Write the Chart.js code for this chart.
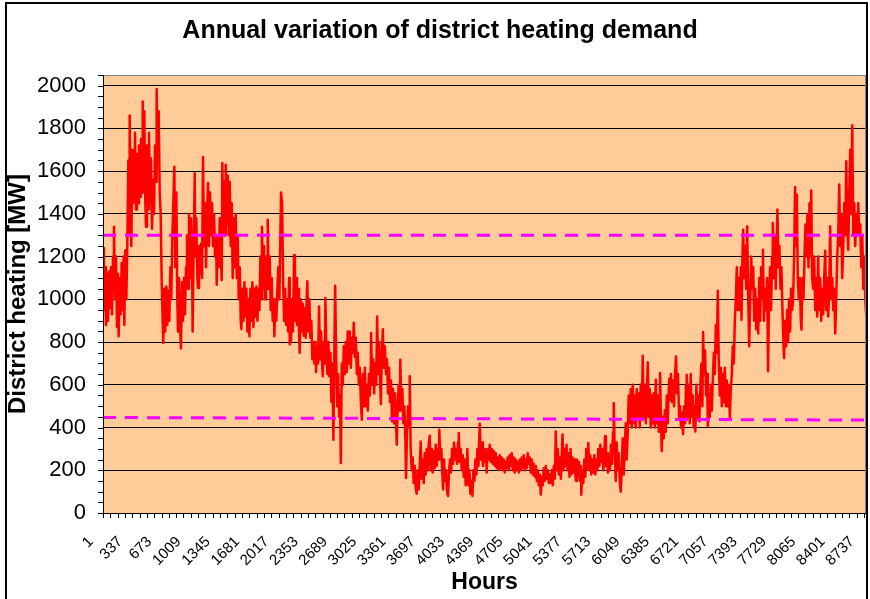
<!DOCTYPE html>
<html>
<head>
<meta charset="utf-8">
<title>Annual variation of district heating demand</title>
<script src="https://cdn.jsdelivr.net/npm/chart.js@4.4.0/dist/chart.umd.min.js"></script>
<style>
    html, body { margin: 0; padding: 0; background: #fff; }
    #wrap { width: 870px; height: 599px; position: relative; }
</style>
</head>
<body>
<div id="wrap"><canvas id="heatChart"></canvas></div>
<script>
// hour of year and demand [MW]
const hours = [
    1, 12, 24, 35, 47, 58, 70, 81, 93, 104, 116, 127, 139, 150, 162, 173, 181, 192, 204, 215, 227, 238, 246, 257, 269, 280,
    292, 300, 307, 319, 326, 338, 349, 361, 368, 380, 391, 403, 414, 426, 437, 449, 457, 468, 475, 487, 495, 506, 518, 529,
    541, 552, 564, 575, 587, 598, 610, 617, 629, 640, 652, 663, 675, 686, 693, 705, 716, 728, 739, 751, 762, 774, 785, 797,
    808, 820, 831, 843, 854, 862, 873, 885, 896, 908, 919, 931, 942, 954, 965, 977, 988, 1000, 1011, 1023, 1030, 1042, 1054,
    1061, 1072, 1084, 1092, 1103, 1115, 1126, 1138, 1149, 1161, 1172, 1184, 1195, 1207, 1218, 1230, 1241, 1253, 1264, 1276,
    1287, 1299, 1307, 1318, 1330, 1341, 1353, 1364, 1371, 1383, 1394, 1402, 1410, 1421, 1433, 1444, 1456, 1467, 1479, 1490,
    1502, 1513, 1525, 1536, 1548, 1559, 1571, 1582, 1590, 1601, 1613, 1624, 1636, 1647, 1659, 1670, 1682, 1693, 1705, 1716,
    1728, 1739, 1751, 1762, 1774, 1785, 1797, 1808, 1820, 1826, 1838, 1849, 1861, 1872, 1884, 1892, 1903, 1915, 1926, 1938,
    1949, 1961, 1968, 1980, 1991, 2003, 2014, 2026, 2037, 2045, 2057, 2068, 2080, 2091, 2103, 2114, 2126, 2137, 2145,
    2148, 2159, 2171, 2182, 2194, 2205, 2217, 2228, 2240, 2251, 2259, 2270, 2282, 2293, 2305, 2316, 2328, 2339, 2347, 2358,
    2370, 2381, 2393, 2404, 2416, 2427, 2439, 2447, 2458, 2470, 2481, 2493, 2504, 2516, 2524, 2535, 2547, 2554, 2566, 2577,
    2589, 2600, 2612, 2623, 2635, 2646, 2658, 2666, 2677, 2689, 2700, 2712, 2723, 2731, 2742, 2754, 2765, 2777, 2788, 2800,
    2811, 2823, 2834, 2846, 2857, 2869, 2880, 2892, 2903, 2915, 2926, 2938, 2949, 2961, 2972, 2984, 2995, 3007, 3018, 3030,
    3041, 3053, 3064, 3076, 3079, 3091, 3102, 3114, 3125, 3137, 3148, 3160, 3171, 3183, 3191, 3202, 3214, 3225, 3237,
    3250, 3261, 3273, 3284, 3296, 3307, 3319, 3330, 3342, 3353, 3365, 3373, 3384, 3396, 3407, 3414, 3426, 3437, 3449, 3460,
    3472, 3480, 3491, 3503, 3514, 3522, 3533, 3545, 3556, 3568, 3579, 3591, 3602, 3614, 3625, 3637, 3648, 3660, 3671, 3683,
    3694, 3706, 3717, 3729, 3740, 3752, 3763, 3775, 3786, 3798, 3809, 3821, 3832, 3844, 3855, 3862, 3874, 3885, 3897, 3905,
    3916, 3928, 3939, 3951, 3962, 3974, 3985, 3997, 4008, 4020, 4031, 4043, 4054, 4066, 4077, 4085, 4096, 4108, 4119, 4131,
    4142, 4154, 4165, 4177, 4184, 4196, 4207, 4219, 4230, 4242, 4253, 4265, 4276, 4288, 4299, 4311, 4322, 4326,
    4340, 4352, 4363, 4375, 4386, 4398, 4406, 4417, 4429, 4440, 4452, 4463, 4475, 4486, 4498, 4509, 4521, 4532, 4544, 4555,
    4567, 4578, 4590, 4601, 4613, 4624, 4636, 4647, 4659, 4670, 4682, 4693, 4705, 4716, 4728, 4739, 4751, 4762, 4774, 4785,
    4797, 4808, 4820, 4831, 4843, 4854, 4866, 4877, 4889, 4900, 4912, 4923, 4935, 4946, 4958, 4969, 4981, 4992, 5004, 5015,
    5027, 5038, 5050, 5061, 5073, 5084, 5096, 5107, 5119, 5130, 5142, 5153, 5165, 5176, 5188, 5199, 5211, 5222, 5234, 5245,
    5257, 5268, 5276, 5287, 5299, 5310, 5322, 5333, 5345, 5356, 5368, 5379, 5391, 5402, 5414,
    5419, 5431, 5442, 5454, 5465, 5477, 5488, 5492, 5503, 5515, 5526, 5538, 5549, 5561, 5572, 5584, 5595, 5607, 5618, 5630,
    5641, 5653, 5664, 5676, 5687, 5699, 5710, 5722, 5733, 5745, 5756, 5764, 5775, 5787, 5798, 5810, 5821, 5833, 5844, 5856,
    5864, 5875, 5887, 5898, 5910, 5921, 5933, 5944, 5956, 5967, 5979, 5990, 6002, 6013, 6025, 6036, 6048, 6059, 6071, 6082,
    6094, 6105, 6117, 6128, 6140, 6151, 6163, 6174, 6186, 6197, 6209, 6220, 6232, 6243, 6255, 6266, 6278, 6289, 6301, 6312,
    6324, 6335, 6347, 6358, 6370, 6381, 6393, 6396, 6408, 6415, 6427, 6438, 6450, 6461, 6473, 6484, 6496, 6503,
    6510, 6522, 6533, 6545, 6556, 6568, 6579, 6591, 6602, 6614, 6625, 6637, 6648, 6660, 6671, 6683, 6694, 6702, 6713, 6725,
    6736, 6748, 6759, 6771, 6782, 6794, 6801, 6813, 6824, 6836, 6847, 6859, 6870, 6882, 6890, 6901, 6913, 6924, 6936, 6944,
    6955, 6967, 6978, 6990, 7001, 7013, 7024, 7036, 7047, 7059, 7070, 7082, 7093, 7105, 7116, 7128, 7139, 7151, 7162, 7174,
    7185, 7197, 7208, 7220, 7231, 7243, 7254, 7266, 7277, 7289, 7300, 7312, 7323, 7331, 7342, 7350, 7362, 7373, 7385, 7396,
    7408, 7419, 7431, 7442, 7454, 7465, 7477, 7488, 7500, 7511, 7523, 7534, 7546, 7557, 7569, 7577, 7588, 7600,
    7613, 7624, 7636, 7647, 7659, 7670, 7682, 7690, 7701, 7713, 7724, 7736, 7743, 7755, 7766, 7778, 7789, 7801, 7812, 7820,
    7831, 7843, 7854, 7866, 7877, 7889, 7900, 7912, 7923, 7935, 7946, 7958, 7966, 7977, 7989, 8000, 8012, 8019, 8031, 8042,
    8054, 8065, 8077, 8088, 8100, 8111, 8123, 8131, 8142, 8154, 8165, 8177, 8188, 8200, 8211, 8223, 8234, 8246, 8257, 8269,
    8280, 8292, 8303, 8315, 8326, 8338, 8349, 8361, 8372, 8384, 8395, 8407, 8418, 8430, 8441, 8453, 8464, 8476, 8487, 8499,
    8510, 8522, 8533, 8545, 8556, 8568, 8579, 8591, 8602, 8614, 8625, 8637, 8648, 8660, 8671, 8683, 8694, 8706, 8717, 8729,
    8740, 8752, 8760
];
const demand = [
    1240, 950, 1150, 880, 1120, 900, 1130, 960, 1150, 930, 1200, 1340, 1000, 1200, 870, 1120, 827, 1100, 930, 1170, 950, 1200, 880, 1230, 1000, 1250,
    1650, 1300, 1860, 1420, 1250, 1700, 1450, 1700, 1780, 1420, 1680, 1450, 1720, 1480, 1750, 1500, 1926, 1600, 1880, 1450, 1340, 1720, 1420, 1780,
    1450, 1660, 1330, 1560, 1400, 1720, 1550, 1984, 1650, 1880, 1500, 1400, 1080, 900, 796, 1050, 850, 1060, 880, 1040, 900, 1150, 1000, 1290,
    1450, 1620, 1150, 1500, 1000, 850, 1100, 880, 770, 1080, 900, 1100, 930, 1150, 1300, 1050, 1400, 1100, 1380, 1200, 850, 1250, 1590,
    1200, 1380, 1100, 1053, 1250, 1120, 1260, 1100, 1666, 1250, 1450, 1150, 1400, 1544, 1250, 1500, 1300, 1450, 1250, 1400,
    1200, 1300, 1068, 1300, 1150, 1380, 1200, 1090, 1638, 1300, 1550, 1300, 1630, 1350, 1580, 1300, 1550, 1250, 1450, 1100,
    1380, 1150, 1400, 1100, 1300, 1000, 1150, 900, 860, 1050, 900, 1080, 920, 1050, 850, 1000, 827, 1050, 900, 1080,
    870, 1050, 920, 1060, 900, 1050, 950, 1200, 1000, 1340, 1050, 1250, 1000, 1200, 1050, 1373, 1050, 1200, 950, 1100,
    900, 1000, 827, 1000, 900, 1050, 1150, 1000, 1300, 1500, 1450, 1100, 900, 1050, 880, 1000, 850, 1100, 790,
    950, 800, 1000, 850, 1206, 900, 1100, 880, 1050, 850, 750, 1000, 850, 980, 830, 960, 820, 1000, 1085, 850,
    1000, 820, 900, 720, 800, 700, 800, 660, 780, 700, 967, 720, 850, 700, 640, 800, 700, 1006, 750, 650,
    800, 640, 750, 520, 700, 343, 800, 1064, 750, 500, 650, 450, 550, 234, 700, 600, 780, 650, 800, 660,
    850, 700, 850, 680, 820, 750, 890, 730, 820, 650, 750, 600, 680, 520, 437, 650, 500, 680, 500, 600,
    480, 650, 550, 700, 842, 600, 720, 560, 700, 600, 920, 650, 800, 600, 510, 750, 860, 680, 780,
    650, 720, 560, 680, 520, 620, 430, 580, 420, 560, 430, 320, 500, 600, 480, 717, 480, 580, 420, 500,
    350, 164, 380, 500, 400, 640, 300, 200, 260, 140, 220, 120, 90, 200, 110, 220, 335, 160, 250, 140,
    280, 180, 300, 200, 320, 362, 200, 300, 190, 290, 210, 320, 220, 300, 250, 390, 250, 300, 180, 110,
    250, 150, 200, 100, 80, 200, 250, 190, 300, 230, 330, 250, 300, 230, 330, 374, 240, 300, 200, 270,
    170, 250, 130, 200, 300, 130, 200, 90, 150, 80, 200, 150, 250, 180, 300, 220, 380, 418,
    250, 330, 220, 300, 240, 290, 190, 300, 250, 320, 240, 300, 230, 290, 220, 280, 210, 260, 200, 270,
    210, 260, 200, 250, 190, 240, 210, 260, 200, 270, 220, 280, 200, 260, 190, 250, 200, 240, 190, 250,
    200, 260, 210, 270, 200, 250, 210, 280, 230, 260, 190, 250, 180, 230, 170, 220, 150, 200, 130, 180,
    86, 170, 130, 210, 150, 220, 160, 200, 140, 180, 140, 200, 130, 220, 160, 382, 200, 300, 180, 260,
    160, 280, 367, 200, 300, 220, 320, 200, 280, 170, 300, 180, 260, 190, 250,
    200, 150, 250, 170, 240, 150, 220, 86, 200, 140, 250, 170, 300, 210, 328, 200, 270, 180, 250, 190,
    270, 180, 250, 200, 300, 220, 320, 240, 300, 200, 280, 359, 220, 280, 190, 260, 200, 320, 230, 380,
    515, 300, 150, 330, 200, 280, 150, 100, 200, 350, 180, 300, 420, 250, 380, 550, 420, 580, 400, 600,
    420, 550, 400, 580, 450, 560, 400, 600, 450, 736, 450, 600, 420, 550, 705, 450, 580, 400, 550, 420,
    560, 400, 624, 420, 550, 380, 500, 655, 400, 289, 450, 350, 480, 380, 550, 420, 580, 630,
    530, 650, 520, 620, 500, 650, 733, 560, 650, 450, 500, 400, 470, 370, 500, 420, 600, 647, 450, 600,
    420, 650, 450, 550, 400, 500, 382, 600, 450, 550, 430, 600, 700, 500, 847, 650, 760, 550, 650, 405,
    560, 450, 600, 480, 620, 750, 650, 880, 750, 1040, 700, 550, 680, 500, 650, 520, 680, 500, 620, 500,
    600, 445, 580, 650, 780, 700, 900, 1000, 1150, 950, 1100, 950, 1150, 905, 1200, 1326, 1100, 1250, 1050, 1342,
    1000, 780, 1000, 1200, 1050, 1150, 900, 1050, 860, 1000, 840, 1100, 900, 1150, 1000, 1232, 900, 1050,
    950, 1100, 663, 1000, 1150, 950, 1200, 1357, 1100, 1300, 1050, 1300, 1420, 1150, 1250, 1050, 1150, 950, 800, 725,
    900, 780, 950, 800, 1000, 850, 1050, 950, 1000, 1200, 1526, 1250, 1490, 1100, 1000, 1100, 900, 858, 1100, 1000,
    1200, 1350, 1200, 1400, 1150, 1450, 1200, 1510, 1100, 1050, 1200, 950, 1100, 920, 1200, 950, 1100, 900, 1050, 930,
    1100, 1228, 950, 1100, 920, 1050, 1342, 1000, 1100, 950, 1050, 840, 1000, 1200, 1300, 1537, 1250, 1400, 1100, 1250,
    1450, 1300, 1646, 1350, 1232, 1500, 1700, 1400, 1815, 1300, 1450, 1250, 1400, 1300, 1450, 1300, 1350, 1150, 1300, 1050,
    1200, 1000, 936
];

// dashed reference levels
const limitHours = [1, 8760];
const upperLimit = [1300, 1300];
const lowerLimit = [447, 435];

// axis labels
const tickHours = [1, 337, 673, 1009, 1345, 1681, 2017, 2353, 2689, 3025, 3361, 3697, 4033, 4369, 4705,
    5041, 5377, 5713, 6049, 6385, 6721, 7057, 7393, 7729, 8065, 8401, 8737];
const yTicks = [0, 200, 400, 600, 800, 1000, 1200, 1400, 1600, 1800, 2000];

Chart.defaults.font.family = "'Liberation Sans', Arial, sans-serif";
Chart.defaults.color = '#000';

const plotBackground = {
    id: 'plotBackground',
    beforeDraw(chart) {
        const { ctx, chartArea: a } = chart;
        ctx.save();
        ctx.fillStyle = '#FFCC99';
        ctx.fillRect(a.left, a.top, a.right - a.left, a.bottom - a.top);
        ctx.restore();
    }
};

// small tick marks, plot edge and outer frame
const frameAndTicks = {
    id: 'frameAndTicks',
    afterDraw(chart) {
        const { ctx, chartArea: a, scales: { x, y } } = chart;
        ctx.save();
        ctx.strokeStyle = '#808080';
        ctx.lineWidth = 1;
        ctx.beginPath();
        ctx.moveTo(a.left, a.top + 0.5);
        ctx.lineTo(a.right - 0.5, a.top + 0.5);
        ctx.lineTo(a.right - 0.5, a.bottom);
        ctx.stroke();

        ctx.strokeStyle = '#000';
        ctx.beginPath();
        for (let v = 0; v <= 2050; v += 50) {
            const py = Math.round(y.getPixelForValue(v)) + 0.5;
            ctx.moveTo(a.left - 5, py);
            ctx.lineTo(a.left, py);
        }
        for (let h = 1; h <= 8760; h += 84) {
            const px = Math.round(x.getPixelForValue(h)) + 0.5;
            ctx.moveTo(px, a.bottom);
            ctx.lineTo(px, a.bottom + 5);
        }
        ctx.moveTo(a.left + 0.5, a.top);
        ctx.lineTo(a.left + 0.5, a.bottom);
        ctx.stroke();

        ctx.lineWidth = 2;
        ctx.beginPath();
        ctx.moveTo(6, 602);
        ctx.lineTo(6, 3);
        ctx.lineTo(867, 3);
        ctx.lineTo(867, 602);
        ctx.stroke();
        ctx.restore();
    }
};

const ctx = document.getElementById('heatChart');
new Chart(ctx, {
    type: 'line',
    data: {
        datasets: [
            {
                label: 'Upper level',
                data: limitHours.map((h, i) => ({ x: h, y: upperLimit[i] })),
                borderColor: '#FF00FF',
                borderWidth: 3,
                borderDash: [13, 9],
                pointRadius: 0
            },
            {
                label: 'Lower level',
                data: limitHours.map((h, i) => ({ x: h, y: lowerLimit[i] })),
                borderColor: '#FF00FF',
                borderWidth: 3,
                borderDash: [13, 9],
                pointRadius: 0
            },
            {
                label: 'District heating',
                data: hours.map((h, i) => ({ x: h, y: demand[i] })),
                borderColor: '#FF0000',
                borderWidth: 2.5,
                borderJoinStyle: 'round',
                pointRadius: 0,
                tension: 0
            }
        ]
    },
    options: {
        responsive: true,
        maintainAspectRatio: false,
        animation: false,
        layout: { padding: { left: 14, right: 4, top: 0, bottom: 0 } },
        plugins: {
            legend: { display: false },
            tooltip: { enabled: false },
            title: {
                display: true,
                text: 'Annual variation of district heating demand',
                color: '#000',
                font: { size: 25, weight: 'bold' },
                padding: { top: 16, bottom: 29 }
            }
        },
        scales: {
            x: {
                type: 'linear',
                min: 1,
                max: 8760,
                afterBuildTicks: (axis) => { axis.ticks = tickHours.map(v => ({ value: v })); },
                afterFit: (axis) => {
                    axis.height = 86;
                    axis.paddingLeft = 0;
                    axis.paddingRight = 0;
                },
                grid: {
                    display: true,
                    drawOnChartArea: false,
                    drawTicks: true,
                    tickLength: 18,
                    tickColor: 'rgba(0,0,0,0)'
                },
                border: { display: true, color: '#000', width: 1 },
                ticks: {
                    autoSkip: false,
                    minRotation: 45,
                    maxRotation: 45,
                    padding: 2,
                    labelOffset: -12,
                    color: '#000',
                    font: { size: 15 },
                    callback: (v) => String(v)
                },
                title: {
                    display: true,
                    text: 'Hours',
                    color: '#000',
                    font: { size: 23, weight: 'bold' },
                    padding: { top: 0, bottom: 3 }
                }
            },
            y: {
                min: 0,
                max: 2050,
                afterBuildTicks: (axis) => { axis.ticks = yTicks.map(v => ({ value: v })); },
                afterFit: (axis) => { axis.width = 89; },
                grid: {
                    color: '#000',
                    lineWidth: 1,
                    drawTicks: true,
                    tickLength: 14,
                    tickColor: 'rgba(0,0,0,0)'
                },
                border: { display: true, color: '#000', width: 1 },
                ticks: {
                    padding: 3,
                    color: '#000',
                    font: { size: 22 },
                    callback: (v) => String(v)
                },
                title: {
                    display: true,
                    text: 'District heating [MW]',
                    color: '#000',
                    font: { size: 24, weight: 'bold' },
                    padding: { top: -10, bottom: 0 }
                }
            }
        }
    },
    plugins: [plotBackground, frameAndTicks]
});
</script>
</body>
</html>
